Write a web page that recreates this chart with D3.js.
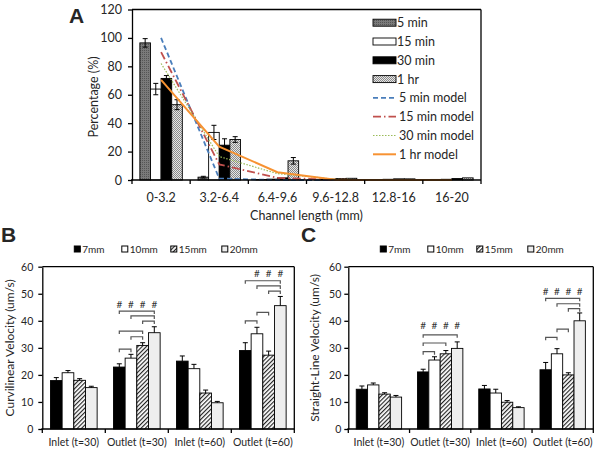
<!DOCTYPE html>
<html><head><meta charset="utf-8">
<script src="https://cdn.jsdelivr.net/npm/d3@7"></script>
<style>
body{margin:0;background:#fff}
svg{display:block}
text{font-family:Lato,"Noto Sans",sans-serif;fill:#262626}
</style>
</head><body>
<svg id="c" width="601" height="451"></svg>
<script>
// ---------- Panel A data ----------
const lengthBins = ["0-3.2","3.2-6.4","6.4-9.6","9.6-12.8","12.8-16","16-20"];
const timeSeries = ["5 min","15 min","30 min","1 hr"];
const pct5min  = [96.5, 2.0, 0.3, 0.4, 0.3, 0.4];
const pct15min = [64.0, 33.5, 0.6, 0.6, 0.5, 0.5];
const pct30min = [71.5, 24.5, 1.5, 1.0, 0.8, 1.0];
const pct1hr   = [53.0, 28.5, 13.5, 1.2, 0.8, 1.5];
const err5min  = [3.0, 0.6, 0, 0, 0, 0];
const err15min = [4.0, 5.0, 0, 0, 0, 0];
const err30min = [2.0, 4.5, 0, 0, 0, 0];
const err1hr   = [3.5, 2.0, 2.3, 0, 0, 0];
const modelNames = ["5 min model","15 min model","30 min model","1 hr model"];
const model5min  = [100, 1.0, 0, 0, 0, 0];
const model15min = [90, 11, 1.5, 0.2, 0, 0];
const model30min = [82, 16.5, 4.5, 0.5, 0, 0];
const model1hr   = [70.5, 23.5, 5.5, 0.2, 0, 0];
const pctTicks = [0,20,40,60,80,100,120];

// ---------- Panels B & C data ----------
const locations = ["Inlet (t=30)","Outlet (t=30)","Inlet (t=60)","Outlet (t=60)"];
const distances = ["7mm","10mm","15mm","20mm"];
const velTicks = [0,10,20,30,40,50,60];
const curv7  = [17.9, 22.9, 25.1, 29.0];
const curv10 = [20.8, 26.2, 22.3, 35.2];
const curv15 = [18.0, 30.9, 13.3, 27.3];
const curv20 = [15.3, 35.6, 9.7, 45.6];
const curvErr7  = [1.1, 1.2, 1.9, 2.9];
const curvErr10 = [0.8, 1.4, 1.6, 2.4];
const curvErr15 = [0.6, 1.0, 1.1, 1.5];
const curvErr20 = [0.5, 2.2, 0.5, 3.4];
const sl7  = [14.7, 21.1, 14.8, 21.9];
const sl10 = [16.3, 25.5, 13.3, 27.8];
const sl15 = [12.9, 27.8, 9.9, 20.0];
const sl20 = [11.8, 29.8, 7.9, 40.0];
const slErr7  = [1.2, 1.0, 1.3, 2.7];
const slErr10 = [0.7, 1.2, 1.4, 1.9];
const slErr15 = [0.5, 1.2, 0.6, 0.8];
const slErr20 = [0.6, 2.4, 0.3, 2.9];
// significance brackets: [location index, from distance, to distance, level]
const curvBrackets = [[1,0,1,29.5],[1,1,2,34.1],[1,0,2,36.2],[1,2,3,39.9],[1,1,3,41.8],[1,0,3,43.6],
                      [3,0,1,40.0],[3,1,2,43.1],[3,2,3,51.0],[3,1,3,52.9],[3,0,3,54.8]];
const curvMarks = [[1,[0,1,2,3],46.2],[3,[1,2,3],57.6]];
const slBrackets = [[1,0,1,28.6],[1,0,2,31.8],[1,0,3,34.8],
                    [3,0,1,33.9],[3,1,2,36.9],[3,2,3,44.5],[3,1,3,46.3],[3,0,3,48.3]];
const slMarks = [[1,[0,1,2,3],38.4],[3,[0,1,2,3],50.8]];

// ---------- drawing ----------
const svg = d3.select("#c");
const defs = svg.append("defs");
function pat(id, w, h, build, tf){
  const p = defs.append("pattern").attr("id",id).attr("patternUnits","userSpaceOnUse")
    .attr("width",w).attr("height",h);
  if (tf) p.attr("patternTransform", tf);
  build(p);
}
pat("p5min",2,2,p=>{
  p.append("rect").attr("width",2).attr("height",2).attr("fill","#7a7a7a");
  p.append("rect").attr("width",1).attr("height",1).attr("fill","#555");
});
pat("p1hr",2,2,p=>{
  p.append("rect").attr("width",2).attr("height",2).attr("fill","#e6e6e6");
  p.append("rect").attr("width",1).attr("height",1).attr("fill","#8a8a8a");
  p.append("rect").attr("x",1).attr("y",1).attr("width",1).attr("height",1).attr("fill","#8a8a8a");
});
pat("hatch",3,3,p=>{
  p.append("rect").attr("width",3).attr("height",3).attr("fill","#fff");
  p.append("line").attr("x1",0.5).attr("y1",0).attr("x2",0.5).attr("y2",3)
    .attr("stroke","#222").attr("stroke-width",1.3);
},"rotate(45)");

// ===== Panel A =====
const A = {l:132, r:481, t:9.5, b:180};
const xA = d3.scaleBand().domain(lengthBins).range([A.l, A.r]);
const xAs = d3.scaleBand().domain(timeSeries).range([0, xA.bandwidth()]).paddingOuter(0.74);
const yA = d3.scaleLinear().domain([0,120]).range([A.b, A.t]);
const pctData = [pct5min, pct15min, pct30min, pct1hr];
const pctErr = [err5min, err15min, err30min, err1hr];
const fillsA = ["url(#p5min)","#fff","#000","url(#p1hr)"];
const gA = svg.append("g");

timeSeries.forEach((s,i)=>{
  gA.append("g").selectAll("rect").data(pctData[i]).join("rect")
    .attr("x",(d,j)=>xA(lengthBins[j])+xAs(s))
    .attr("width",xAs.bandwidth())
    .attr("y",d=>yA(d)).attr("height",d=>yA(0)-yA(d))
    .attr("fill",fillsA[i]).attr("stroke","#000").attr("stroke-width",0.9);
});
timeSeries.forEach((s,i)=>{
  pctData[i].forEach((v,j)=>{
    const e = pctErr[i][j]; if(!e) return;
    const cx = xA(lengthBins[j])+xAs(s)+xAs.bandwidth()/2;
    const g = gA.append("g").attr("stroke","#000").attr("stroke-width",1);
    g.append("line").attr("x1",cx).attr("x2",cx).attr("y1",yA(v-e)).attr("y2",yA(v+e));
    g.append("line").attr("x1",cx-2.5).attr("x2",cx+2.5).attr("y1",yA(v+e)).attr("y2",yA(v+e));
    g.append("line").attr("x1",cx-2.5).attr("x2",cx+2.5).attr("y1",yA(v-e)).attr("y2",yA(v-e));
  });
});
const models = [model5min, model15min, model30min, model1hr];
const modelStyle = [
  {c:"#4a7ebb", w:1.8, d:"5,3"},
  {c:"#c0504d", w:1.8, d:"8,3,1.5,3"},
  {c:"#9bbb59", w:1.2, d:"1.5,1.5"},
  {c:"#f79232", w:2, d:null}
];
const lineA = d3.line().x((d,j)=>xA(lengthBins[j])+xA.bandwidth()/2).y(d=>yA(d));
models.forEach((m,i)=>{
  gA.append("path").attr("d",lineA(m)).attr("fill","none")
    .attr("stroke",modelStyle[i].c).attr("stroke-width",modelStyle[i].w)
    .attr("stroke-dasharray",modelStyle[i].d);
});
// axes A
const axA = gA.append("g").attr("transform",`translate(${A.l},0)`)
  .call(d3.axisLeft(yA).tickValues(pctTicks).tickSize(4).tickSizeOuter(0).tickPadding(6));
axA.selectAll("text").style("font-size","12.5px").style("font-family","Lato");
axA.selectAll("path,line").attr("stroke","#000").attr("stroke-width",1.3);
gA.append("line").attr("x1",A.l).attr("x2",A.r).attr("y1",A.t).attr("y2",A.t).attr("stroke","#000").attr("stroke-width",1.3);
gA.append("line").attr("x1",A.r).attr("x2",A.r).attr("y1",A.t).attr("y2",A.b).attr("stroke","#000").attr("stroke-width",1.3);
gA.append("line").attr("x1",A.l-1).attr("x2",A.r).attr("y1",A.b).attr("y2",A.b).attr("stroke","#000").attr("stroke-width",1.3);
gA.selectAll(".xt").data(lengthBins.map(c=>xA(c)).concat([A.r])).join("line")
  .attr("x1",d=>d).attr("x2",d=>d).attr("y1",A.b).attr("y2",A.b+4).attr("stroke","#000").attr("stroke-width",1.3);
gA.selectAll(".xl").data(lengthBins).join("text")
  .attr("x",d=>xA(d)+xA.bandwidth()/2).attr("y",202).attr("text-anchor","middle")
  .style("font-size","12.5px").text(d=>d);
gA.append("text").attr("x",(A.l+A.r)/2).attr("y",220).attr("text-anchor","middle")
  .style("font-size","12.5px").text("Channel length (mm)");
gA.append("text").attr("transform","translate(98,97) rotate(-90)").attr("text-anchor","middle")
  .style("font-size","12.5px").text("Percentage (%)");
gA.append("text").attr("x",69).attr("y",23).style("font-family","'Liberation Sans',Arial,sans-serif")
  .style("font-weight","bold").style("font-size","21px").attr("fill","#000").text("A");
// legend A
const legA = gA.append("g");
timeSeries.forEach((s,i)=>{
  const cy = 22.7 + 18.8*i;
  legA.append("rect").attr("x",373).attr("y",cy-3.5).attr("width",23).attr("height",7)
    .attr("fill",fillsA[i]).attr("stroke","#000").attr("stroke-width",0.9);
  legA.append("text").attr("x",397).attr("y",cy+4.5).style("font-size","12.5px").text(s);
});
modelNames.forEach((s,i)=>{
  const cy = 22.7 + 18.8*(i+4);
  legA.append("line").attr("x1",373).attr("x2",396).attr("y1",cy).attr("y2",cy)
    .attr("stroke",modelStyle[i].c).attr("stroke-width",modelStyle[i].w)
    .attr("stroke-dasharray",modelStyle[i].d);
  legA.append("text").attr("x",399).attr("y",cy+4.5).style("font-size","12.5px").text(s);
});

// ===== Panels B & C =====
function velPanel(cfg){
  const g = svg.append("g");
  const x = d3.scaleBand().domain(locations).range([cfg.l, cfg.r]);
  const xs = d3.scaleBand().domain(distances).range([0, x.bandwidth()]).paddingOuter(0.70);
  const y = d3.scaleLinear().domain([0,60]).range([cfg.b, cfg.t]);
  const fills = ["#000","#fff","url(#hatch)","#eeeeee"];
  const bc = (ci,di)=>x(locations[ci])+xs(distances[di])+xs.bandwidth()/2;
  distances.forEach((dn,i)=>{
    g.append("g").selectAll("rect").data(cfg.data[i]).join("rect")
      .attr("x",(d,j)=>x(locations[j])+xs(dn)).attr("width",xs.bandwidth())
      .attr("y",d=>y(d)).attr("height",d=>y(0)-y(d))
      .attr("fill",fills[i]).attr("stroke","#000").attr("stroke-width",0.9);
  });
  distances.forEach((dn,i)=>{
    cfg.data[i].forEach((v,j)=>{
      const e = cfg.err[i][j], cx = bc(j,i);
      const eg = g.append("g").attr("stroke","#000").attr("stroke-width",1);
      eg.append("line").attr("x1",cx).attr("x2",cx).attr("y1",y(v)).attr("y2",y(v+e));
      eg.append("line").attr("x1",cx-2.5).attr("x2",cx+2.5).attr("y1",y(v+e)).attr("y2",y(v+e));
    });
  });
  cfg.brackets.forEach(([ci,a,b,v])=>{
    const x1 = bc(ci,a), x2 = bc(ci,b), yy = y(v);
    g.append("path").attr("d",`M${x1},${yy+3}V${yy}H${x2}V${yy+3}`)
      .attr("fill","none").attr("stroke","#555").attr("stroke-width",1.2);
  });
  cfg.marks.forEach(([ci,list,v])=>{
    list.forEach(di=>{
      g.append("text").attr("x",bc(ci,di)).attr("y",y(v)+3.5).attr("text-anchor","middle")
        .style("font-size","10px").style("fill","#333").text("#");
    });
  });
  const ax = g.append("g").attr("transform",`translate(${cfg.l},0)`)
    .call(d3.axisLeft(y).tickValues(velTicks).tickSize(4).tickSizeOuter(0).tickPadding(cfg.tp));
  ax.selectAll("text").style("font-size","10.5px").style("font-family","Lato");
  ax.selectAll("path,line").attr("stroke","#000").attr("stroke-width",1.3);
  g.append("line").attr("x1",cfg.l).attr("x2",cfg.r).attr("y1",cfg.t).attr("y2",cfg.t).attr("stroke","#000").attr("stroke-width",1.3);
  g.append("line").attr("x1",cfg.r).attr("x2",cfg.r).attr("y1",cfg.t).attr("y2",cfg.b).attr("stroke","#000").attr("stroke-width",1.3);
  g.append("line").attr("x1",cfg.l-1).attr("x2",cfg.r).attr("y1",cfg.b).attr("y2",cfg.b).attr("stroke","#000").attr("stroke-width",1.3);
  g.selectAll(".xt").data(locations.map(c=>x(c)).concat([cfg.r])).join("line")
    .attr("x1",d=>d).attr("x2",d=>d).attr("y1",cfg.b).attr("y2",cfg.b+4).attr("stroke","#000").attr("stroke-width",1.3);
  g.selectAll(".xl").data(locations).join("text")
    .attr("x",d=>x(d)+x.bandwidth()/2).attr("y",446).attr("text-anchor","middle")
    .style("font-size","10.5px").text(d=>d);
  g.append("text").attr("transform",`translate(${cfg.tx},${(cfg.t+cfg.b)/2}) rotate(-90)`)
    .attr("text-anchor","middle").style("font-size","12px").text(cfg.title);
  g.append("text").attr("x",cfg.lx).attr("y",242).style("font-family","'Liberation Sans',Arial,sans-serif")
    .style("font-weight","bold").style("font-size","21px").attr("fill","#000").text(cfg.letter);
  const legOff = [32, 79.5, 128.5, 179.5];
  distances.forEach((dn,i)=>{
    const lx = cfg.l + legOff[i];
    g.append("rect").attr("x",lx).attr("y",246).attr("width",6).attr("height",6)
      .attr("fill",fills[i]).attr("stroke","#000").attr("stroke-width",1);
    g.append("text").attr("x",lx+8).attr("y",252.5).style("font-size","10px").text(dn);
  });
}
velPanel({l:42.3, r:294.3, t:266.7, b:429, tp:5,
  data:[curv7,curv10,curv15,curv20], err:[curvErr7,curvErr10,curvErr15,curvErr20],
  brackets:curvBrackets, marks:curvMarks, title:"Curvilinear Velocity (um/s)", tx:14, letter:"B", lx:1});
velPanel({l:348.3, r:593.3, t:266.7, b:429, tp:3,
  data:[sl7,sl10,sl15,sl20], err:[slErr7,slErr10,slErr15,slErr20],
  brackets:slBrackets, marks:slMarks, title:"Straight-Line Velocity (um/s)", tx:319, letter:"C", lx:301});
</script>
</body></html>
